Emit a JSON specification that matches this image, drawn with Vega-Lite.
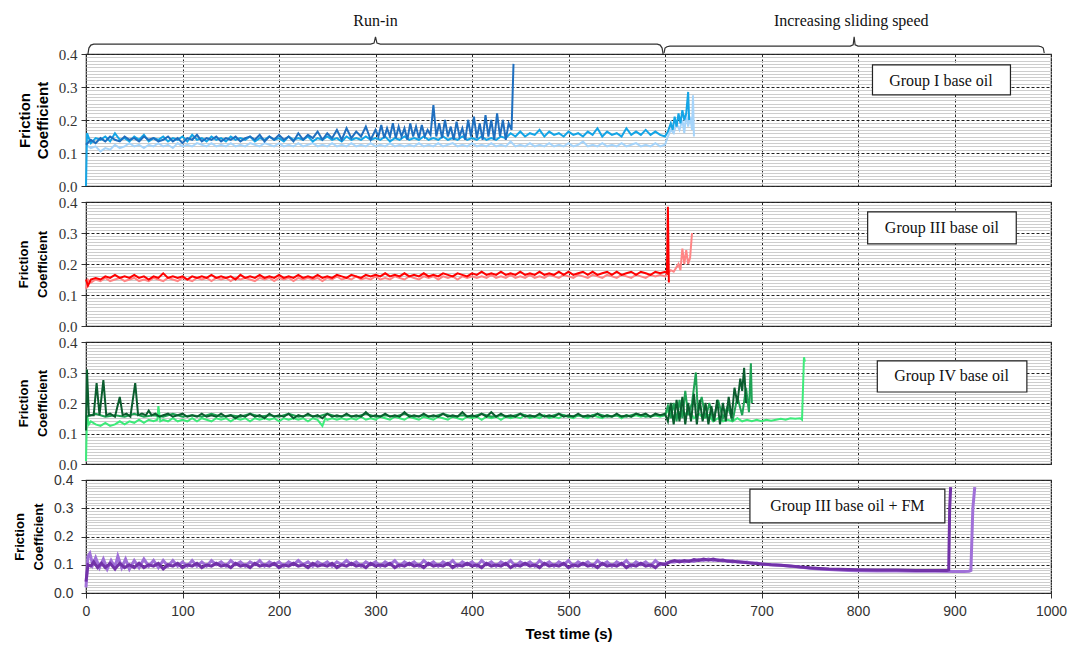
{
"$schema":"https://vega.github.io/schema/vega-lite/v6.json",
"background":"white",
"padding":{"left":12,"top":12,"right":5,"bottom":5},
"spacing":16,
"bounds":"flush",
"config":{"view":{"stroke":"#333","strokeWidth":1.2}},
"datasets":{
"Ia":[{"t":0,"v":0.125},{"t":5,"v":0.14},{"t":10,"v":0.13},{"t":15,"v":0.145},{"t":20,"v":0.135},{"t":25,"v":0.15},{"t":30,"v":0.14},{"t":35,"v":0.135},{"t":40,"v":0.15},{"t":45,"v":0.14},{"t":50,"v":0.145},{"t":55,"v":0.135},{"t":60,"v":0.15},{"t":65,"v":0.14},{"t":70,"v":0.145},{"t":75,"v":0.135},{"t":80,"v":0.14},{"t":85,"v":0.15},{"t":90,"v":0.135},{"t":95,"v":0.145},{"t":100,"v":0.13},{"t":105,"v":0.145},{"t":110,"v":0.14},{"t":115,"v":0.155},{"t":120,"v":0.135},{"t":125,"v":0.145},{"t":130,"v":0.14},{"t":135,"v":0.15},{"t":140,"v":0.135},{"t":145,"v":0.145},{"t":150,"v":0.14},{"t":155,"v":0.15},{"t":160,"v":0.135},{"t":165,"v":0.145},{"t":170,"v":0.15},{"t":175,"v":0.14},{"t":180,"v":0.155},{"t":185,"v":0.135},{"t":190,"v":0.15},{"t":195,"v":0.14},{"t":200,"v":0.155},{"t":205,"v":0.14},{"t":210,"v":0.15},{"t":215,"v":0.135},{"t":220,"v":0.16},{"t":225,"v":0.14},{"t":230,"v":0.155},{"t":235,"v":0.145},{"t":240,"v":0.165},{"t":245,"v":0.14},{"t":250,"v":0.16},{"t":255,"v":0.145},{"t":260,"v":0.17},{"t":265,"v":0.14},{"t":270,"v":0.175},{"t":275,"v":0.145},{"t":280,"v":0.165},{"t":285,"v":0.15},{"t":290,"v":0.18},{"t":295,"v":0.14},{"t":300,"v":0.17},{"t":303,"v":0.15},{"t":306,"v":0.185},{"t":309,"v":0.145},{"t":312,"v":0.175},{"t":315,"v":0.15},{"t":318,"v":0.19},{"t":321,"v":0.145},{"t":324,"v":0.18},{"t":327,"v":0.15},{"t":330,"v":0.175},{"t":333,"v":0.14},{"t":336,"v":0.19},{"t":339,"v":0.15},{"t":342,"v":0.18},{"t":345,"v":0.145},{"t":348,"v":0.185},{"t":351,"v":0.15},{"t":354,"v":0.17},{"t":357,"v":0.155},{"t":360,"v":0.245},{"t":363,"v":0.15},{"t":366,"v":0.19},{"t":369,"v":0.145},{"t":372,"v":0.2},{"t":375,"v":0.15},{"t":378,"v":0.18},{"t":381,"v":0.14},{"t":384,"v":0.195},{"t":387,"v":0.15},{"t":390,"v":0.175},{"t":393,"v":0.14},{"t":396,"v":0.2},{"t":399,"v":0.15},{"t":402,"v":0.21},{"t":405,"v":0.145},{"t":408,"v":0.19},{"t":411,"v":0.14},{"t":414,"v":0.215},{"t":417,"v":0.15},{"t":420,"v":0.2},{"t":423,"v":0.14},{"t":426,"v":0.22},{"t":429,"v":0.15},{"t":432,"v":0.2},{"t":435,"v":0.14},{"t":438,"v":0.19},{"t":441,"v":0.17},{"t":443,"v":0.37}],
"Ib":[{"t":0,"v":0.0},{"t":1,"v":0.16},{"t":5,"v":0.13},{"t":10,"v":0.145},{"t":15,"v":0.14},{"t":20,"v":0.15},{"t":25,"v":0.135},{"t":30,"v":0.16},{"t":35,"v":0.14},{"t":40,"v":0.145},{"t":45,"v":0.135},{"t":50,"v":0.15},{"t":55,"v":0.14},{"t":60,"v":0.155},{"t":65,"v":0.135},{"t":70,"v":0.145},{"t":75,"v":0.14},{"t":80,"v":0.15},{"t":85,"v":0.135},{"t":90,"v":0.145},{"t":95,"v":0.14},{"t":100,"v":0.15},{"t":105,"v":0.135},{"t":110,"v":0.155},{"t":115,"v":0.14},{"t":120,"v":0.145},{"t":125,"v":0.135},{"t":130,"v":0.15},{"t":135,"v":0.14},{"t":140,"v":0.145},{"t":145,"v":0.135},{"t":150,"v":0.15},{"t":155,"v":0.14},{"t":160,"v":0.145},{"t":165,"v":0.14},{"t":170,"v":0.15},{"t":175,"v":0.135},{"t":180,"v":0.145},{"t":185,"v":0.14},{"t":190,"v":0.15},{"t":195,"v":0.14},{"t":200,"v":0.145},{"t":205,"v":0.135},{"t":210,"v":0.15},{"t":215,"v":0.14},{"t":220,"v":0.145},{"t":225,"v":0.14},{"t":230,"v":0.15},{"t":235,"v":0.135},{"t":240,"v":0.145},{"t":245,"v":0.14},{"t":250,"v":0.15},{"t":255,"v":0.14},{"t":260,"v":0.145},{"t":265,"v":0.135},{"t":270,"v":0.15},{"t":275,"v":0.14},{"t":280,"v":0.145},{"t":285,"v":0.14},{"t":290,"v":0.15},{"t":295,"v":0.14},{"t":300,"v":0.145},{"t":305,"v":0.14},{"t":310,"v":0.15},{"t":315,"v":0.135},{"t":320,"v":0.145},{"t":325,"v":0.14},{"t":330,"v":0.15},{"t":335,"v":0.14},{"t":340,"v":0.145},{"t":345,"v":0.14},{"t":350,"v":0.15},{"t":355,"v":0.14},{"t":360,"v":0.145},{"t":365,"v":0.14},{"t":370,"v":0.15},{"t":375,"v":0.14},{"t":380,"v":0.145},{"t":385,"v":0.14},{"t":390,"v":0.15},{"t":395,"v":0.14},{"t":400,"v":0.145},{"t":405,"v":0.14},{"t":410,"v":0.15},{"t":415,"v":0.14},{"t":420,"v":0.145},{"t":425,"v":0.14},{"t":430,"v":0.15},{"t":435,"v":0.145},{"t":440,"v":0.16},{"t":445,"v":0.15},{"t":450,"v":0.165},{"t":455,"v":0.15},{"t":460,"v":0.16},{"t":465,"v":0.155},{"t":470,"v":0.17},{"t":475,"v":0.15},{"t":480,"v":0.165},{"t":485,"v":0.155},{"t":490,"v":0.16},{"t":495,"v":0.15},{"t":500,"v":0.165},{"t":505,"v":0.155},{"t":510,"v":0.16},{"t":515,"v":0.15},{"t":520,"v":0.165},{"t":525,"v":0.155},{"t":530,"v":0.175},{"t":535,"v":0.15},{"t":540,"v":0.165},{"t":545,"v":0.155},{"t":550,"v":0.16},{"t":555,"v":0.15},{"t":560,"v":0.175},{"t":565,"v":0.155},{"t":570,"v":0.165},{"t":575,"v":0.155},{"t":580,"v":0.17},{"t":585,"v":0.155},{"t":590,"v":0.165},{"t":595,"v":0.155},{"t":600,"v":0.15},{"t":603,"v":0.165},{"t":606,"v":0.19},{"t":608,"v":0.17},{"t":610,"v":0.21},{"t":612,"v":0.18},{"t":614,"v":0.22},{"t":616,"v":0.19},{"t":618,"v":0.23},{"t":620,"v":0.2},{"t":622,"v":0.22},{"t":624,"v":0.285},{"t":625,"v":0.2}],
"Ic":[{"t":0,"v":0.125},{"t":5,"v":0.115},{"t":10,"v":0.12},{"t":15,"v":0.105},{"t":20,"v":0.115},{"t":25,"v":0.11},{"t":30,"v":0.125},{"t":35,"v":0.115},{"t":40,"v":0.12},{"t":45,"v":0.13},{"t":50,"v":0.12},{"t":55,"v":0.125},{"t":60,"v":0.115},{"t":65,"v":0.125},{"t":70,"v":0.12},{"t":75,"v":0.13},{"t":80,"v":0.12},{"t":85,"v":0.125},{"t":90,"v":0.115},{"t":95,"v":0.13},{"t":100,"v":0.12},{"t":105,"v":0.125},{"t":110,"v":0.12},{"t":115,"v":0.13},{"t":120,"v":0.125},{"t":125,"v":0.12},{"t":130,"v":0.13},{"t":135,"v":0.12},{"t":140,"v":0.125},{"t":145,"v":0.12},{"t":150,"v":0.13},{"t":155,"v":0.12},{"t":160,"v":0.125},{"t":165,"v":0.12},{"t":170,"v":0.13},{"t":175,"v":0.125},{"t":180,"v":0.12},{"t":185,"v":0.13},{"t":190,"v":0.125},{"t":195,"v":0.12},{"t":200,"v":0.13},{"t":205,"v":0.12},{"t":210,"v":0.125},{"t":215,"v":0.12},{"t":220,"v":0.13},{"t":225,"v":0.12},{"t":230,"v":0.125},{"t":235,"v":0.13},{"t":240,"v":0.12},{"t":245,"v":0.125},{"t":250,"v":0.12},{"t":255,"v":0.13},{"t":260,"v":0.12},{"t":265,"v":0.125},{"t":270,"v":0.12},{"t":275,"v":0.13},{"t":280,"v":0.12},{"t":285,"v":0.125},{"t":290,"v":0.12},{"t":295,"v":0.13},{"t":300,"v":0.12},{"t":305,"v":0.125},{"t":310,"v":0.12},{"t":315,"v":0.13},{"t":320,"v":0.12},{"t":325,"v":0.125},{"t":330,"v":0.12},{"t":335,"v":0.125},{"t":340,"v":0.12},{"t":345,"v":0.13},{"t":350,"v":0.12},{"t":355,"v":0.125},{"t":360,"v":0.12},{"t":365,"v":0.13},{"t":370,"v":0.12},{"t":375,"v":0.125},{"t":380,"v":0.13},{"t":385,"v":0.12},{"t":390,"v":0.125},{"t":395,"v":0.12},{"t":400,"v":0.13},{"t":405,"v":0.12},{"t":410,"v":0.125},{"t":415,"v":0.12},{"t":420,"v":0.13},{"t":425,"v":0.12},{"t":430,"v":0.125},{"t":435,"v":0.12},{"t":440,"v":0.135},{"t":445,"v":0.12},{"t":450,"v":0.125},{"t":455,"v":0.12},{"t":460,"v":0.13},{"t":465,"v":0.12},{"t":470,"v":0.125},{"t":475,"v":0.12},{"t":480,"v":0.13},{"t":485,"v":0.12},{"t":490,"v":0.125},{"t":495,"v":0.12},{"t":500,"v":0.13},{"t":505,"v":0.12},{"t":510,"v":0.125},{"t":515,"v":0.135},{"t":520,"v":0.12},{"t":525,"v":0.125},{"t":530,"v":0.12},{"t":535,"v":0.13},{"t":540,"v":0.12},{"t":545,"v":0.125},{"t":550,"v":0.12},{"t":555,"v":0.13},{"t":560,"v":0.12},{"t":565,"v":0.125},{"t":570,"v":0.13},{"t":575,"v":0.12},{"t":580,"v":0.125},{"t":585,"v":0.12},{"t":590,"v":0.13},{"t":595,"v":0.12},{"t":600,"v":0.125},{"t":603,"v":0.15},{"t":606,"v":0.17},{"t":609,"v":0.16},{"t":612,"v":0.19},{"t":615,"v":0.17},{"t":618,"v":0.2},{"t":620,"v":0.16},{"t":622,"v":0.22},{"t":624,"v":0.18},{"t":626,"v":0.21},{"t":628,"v":0.17},{"t":629,"v":0.275},{"t":630,"v":0.15}],
"IIIa":[{"t":0,"v":0.15},{"t":2,"v":0.13},{"t":5,"v":0.15},{"t":10,"v":0.155},{"t":15,"v":0.15},{"t":20,"v":0.16},{"t":25,"v":0.155},{"t":30,"v":0.165},{"t":35,"v":0.155},{"t":40,"v":0.16},{"t":45,"v":0.155},{"t":50,"v":0.165},{"t":55,"v":0.155},{"t":60,"v":0.16},{"t":65,"v":0.15},{"t":70,"v":0.16},{"t":75,"v":0.155},{"t":80,"v":0.17},{"t":85,"v":0.155},{"t":90,"v":0.16},{"t":95,"v":0.155},{"t":100,"v":0.16},{"t":105,"v":0.15},{"t":110,"v":0.16},{"t":115,"v":0.155},{"t":120,"v":0.16},{"t":125,"v":0.155},{"t":130,"v":0.165},{"t":135,"v":0.155},{"t":140,"v":0.16},{"t":145,"v":0.155},{"t":150,"v":0.16},{"t":155,"v":0.15},{"t":160,"v":0.165},{"t":165,"v":0.155},{"t":170,"v":0.16},{"t":175,"v":0.155},{"t":180,"v":0.165},{"t":185,"v":0.155},{"t":190,"v":0.16},{"t":195,"v":0.155},{"t":200,"v":0.165},{"t":205,"v":0.155},{"t":210,"v":0.16},{"t":215,"v":0.155},{"t":220,"v":0.165},{"t":225,"v":0.155},{"t":230,"v":0.16},{"t":235,"v":0.155},{"t":240,"v":0.165},{"t":245,"v":0.155},{"t":250,"v":0.16},{"t":255,"v":0.155},{"t":260,"v":0.165},{"t":265,"v":0.16},{"t":270,"v":0.155},{"t":275,"v":0.165},{"t":280,"v":0.16},{"t":285,"v":0.155},{"t":290,"v":0.165},{"t":295,"v":0.16},{"t":300,"v":0.165},{"t":305,"v":0.16},{"t":310,"v":0.17},{"t":315,"v":0.16},{"t":320,"v":0.165},{"t":325,"v":0.16},{"t":330,"v":0.17},{"t":335,"v":0.16},{"t":340,"v":0.165},{"t":345,"v":0.16},{"t":350,"v":0.17},{"t":355,"v":0.16},{"t":360,"v":0.165},{"t":365,"v":0.16},{"t":370,"v":0.17},{"t":375,"v":0.165},{"t":380,"v":0.16},{"t":385,"v":0.17},{"t":390,"v":0.165},{"t":395,"v":0.16},{"t":400,"v":0.17},{"t":405,"v":0.165},{"t":410,"v":0.175},{"t":415,"v":0.165},{"t":420,"v":0.17},{"t":425,"v":0.165},{"t":430,"v":0.175},{"t":435,"v":0.165},{"t":440,"v":0.17},{"t":445,"v":0.165},{"t":450,"v":0.175},{"t":455,"v":0.165},{"t":460,"v":0.17},{"t":465,"v":0.165},{"t":470,"v":0.175},{"t":475,"v":0.165},{"t":480,"v":0.17},{"t":485,"v":0.165},{"t":490,"v":0.175},{"t":495,"v":0.165},{"t":500,"v":0.175},{"t":505,"v":0.165},{"t":510,"v":0.17},{"t":515,"v":0.175},{"t":520,"v":0.165},{"t":525,"v":0.175},{"t":530,"v":0.165},{"t":535,"v":0.17},{"t":540,"v":0.175},{"t":545,"v":0.165},{"t":550,"v":0.175},{"t":555,"v":0.165},{"t":560,"v":0.17},{"t":565,"v":0.175},{"t":570,"v":0.165},{"t":575,"v":0.175},{"t":580,"v":0.17},{"t":585,"v":0.165},{"t":590,"v":0.175},{"t":595,"v":0.17},{"t":600,"v":0.175},{"t":602,"v":0.17},{"t":603,"v":0.385},{"t":604,"v":0.14}],
"IIIb":[{"t":0,"v":0.12},{"t":2,"v":0.15},{"t":5,"v":0.14},{"t":10,"v":0.15},{"t":15,"v":0.145},{"t":20,"v":0.155},{"t":25,"v":0.145},{"t":30,"v":0.15},{"t":35,"v":0.155},{"t":40,"v":0.145},{"t":45,"v":0.15},{"t":50,"v":0.155},{"t":55,"v":0.145},{"t":60,"v":0.15},{"t":65,"v":0.145},{"t":70,"v":0.155},{"t":75,"v":0.15},{"t":80,"v":0.145},{"t":85,"v":0.155},{"t":90,"v":0.15},{"t":95,"v":0.145},{"t":100,"v":0.155},{"t":105,"v":0.15},{"t":110,"v":0.145},{"t":115,"v":0.155},{"t":120,"v":0.15},{"t":125,"v":0.155},{"t":130,"v":0.145},{"t":135,"v":0.155},{"t":140,"v":0.15},{"t":145,"v":0.155},{"t":150,"v":0.145},{"t":155,"v":0.155},{"t":160,"v":0.15},{"t":165,"v":0.155},{"t":170,"v":0.15},{"t":175,"v":0.145},{"t":180,"v":0.155},{"t":185,"v":0.15},{"t":190,"v":0.155},{"t":195,"v":0.145},{"t":200,"v":0.155},{"t":205,"v":0.15},{"t":210,"v":0.155},{"t":215,"v":0.145},{"t":220,"v":0.155},{"t":225,"v":0.15},{"t":230,"v":0.155},{"t":235,"v":0.15},{"t":240,"v":0.155},{"t":245,"v":0.145},{"t":250,"v":0.155},{"t":255,"v":0.15},{"t":260,"v":0.16},{"t":265,"v":0.15},{"t":270,"v":0.155},{"t":275,"v":0.15},{"t":280,"v":0.16},{"t":285,"v":0.15},{"t":290,"v":0.155},{"t":295,"v":0.15},{"t":300,"v":0.16},{"t":305,"v":0.15},{"t":310,"v":0.155},{"t":315,"v":0.15},{"t":320,"v":0.16},{"t":325,"v":0.155},{"t":330,"v":0.15},{"t":335,"v":0.16},{"t":340,"v":0.155},{"t":345,"v":0.15},{"t":350,"v":0.16},{"t":355,"v":0.155},{"t":360,"v":0.16},{"t":365,"v":0.15},{"t":370,"v":0.16},{"t":375,"v":0.155},{"t":380,"v":0.16},{"t":385,"v":0.15},{"t":390,"v":0.16},{"t":395,"v":0.155},{"t":400,"v":0.16},{"t":405,"v":0.155},{"t":410,"v":0.16},{"t":415,"v":0.155},{"t":420,"v":0.165},{"t":425,"v":0.155},{"t":430,"v":0.16},{"t":435,"v":0.155},{"t":440,"v":0.165},{"t":445,"v":0.155},{"t":450,"v":0.16},{"t":455,"v":0.155},{"t":460,"v":0.165},{"t":465,"v":0.155},{"t":470,"v":0.16},{"t":475,"v":0.155},{"t":480,"v":0.165},{"t":485,"v":0.16},{"t":490,"v":0.155},{"t":495,"v":0.165},{"t":500,"v":0.16},{"t":505,"v":0.155},{"t":510,"v":0.165},{"t":515,"v":0.16},{"t":520,"v":0.155},{"t":525,"v":0.165},{"t":530,"v":0.16},{"t":535,"v":0.155},{"t":540,"v":0.165},{"t":545,"v":0.16},{"t":550,"v":0.155},{"t":555,"v":0.165},{"t":560,"v":0.16},{"t":565,"v":0.155},{"t":570,"v":0.165},{"t":575,"v":0.16},{"t":580,"v":0.155},{"t":585,"v":0.165},{"t":590,"v":0.16},{"t":595,"v":0.165},{"t":600,"v":0.16},{"t":603,"v":0.17},{"t":606,"v":0.18},{"t":609,"v":0.175},{"t":612,"v":0.19},{"t":614,"v":0.2},{"t":616,"v":0.18},{"t":618,"v":0.25},{"t":620,"v":0.2},{"t":622,"v":0.245},{"t":624,"v":0.2},{"t":626,"v":0.22},{"t":628,"v":0.3}],
"IVa":[{"t":0,"v":0.11},{"t":1,"v":0.31},{"t":3,"v":0.16},{"t":8,"v":0.16},{"t":11,"v":0.265},{"t":14,"v":0.16},{"t":18,"v":0.275},{"t":21,"v":0.16},{"t":25,"v":0.165},{"t":30,"v":0.155},{"t":35,"v":0.22},{"t":38,"v":0.16},{"t":42,"v":0.165},{"t":46,"v":0.155},{"t":51,"v":0.265},{"t":54,"v":0.16},{"t":58,"v":0.165},{"t":62,"v":0.16},{"t":65,"v":0.175},{"t":68,"v":0.16},{"t":72,"v":0.165},{"t":76,"v":0.155},{"t":80,"v":0.16},{"t":85,"v":0.165},{"t":90,"v":0.155},{"t":95,"v":0.16},{"t":100,"v":0.165},{"t":105,"v":0.155},{"t":110,"v":0.16},{"t":115,"v":0.155},{"t":120,"v":0.165},{"t":125,"v":0.155},{"t":130,"v":0.16},{"t":135,"v":0.155},{"t":140,"v":0.165},{"t":145,"v":0.155},{"t":150,"v":0.16},{"t":155,"v":0.15},{"t":160,"v":0.16},{"t":165,"v":0.155},{"t":170,"v":0.165},{"t":175,"v":0.155},{"t":180,"v":0.16},{"t":185,"v":0.15},{"t":190,"v":0.165},{"t":195,"v":0.155},{"t":200,"v":0.16},{"t":205,"v":0.155},{"t":210,"v":0.165},{"t":215,"v":0.15},{"t":220,"v":0.16},{"t":225,"v":0.155},{"t":230,"v":0.165},{"t":235,"v":0.155},{"t":240,"v":0.16},{"t":245,"v":0.15},{"t":250,"v":0.165},{"t":255,"v":0.155},{"t":260,"v":0.16},{"t":265,"v":0.155},{"t":270,"v":0.165},{"t":275,"v":0.155},{"t":280,"v":0.16},{"t":285,"v":0.155},{"t":290,"v":0.17},{"t":295,"v":0.155},{"t":300,"v":0.16},{"t":305,"v":0.155},{"t":310,"v":0.165},{"t":315,"v":0.155},{"t":320,"v":0.16},{"t":325,"v":0.155},{"t":330,"v":0.17},{"t":335,"v":0.155},{"t":340,"v":0.16},{"t":345,"v":0.155},{"t":350,"v":0.165},{"t":355,"v":0.155},{"t":360,"v":0.16},{"t":365,"v":0.155},{"t":370,"v":0.165},{"t":375,"v":0.155},{"t":380,"v":0.16},{"t":385,"v":0.155},{"t":390,"v":0.17},{"t":395,"v":0.155},{"t":400,"v":0.16},{"t":405,"v":0.155},{"t":410,"v":0.165},{"t":415,"v":0.155},{"t":420,"v":0.17},{"t":425,"v":0.155},{"t":430,"v":0.165},{"t":435,"v":0.155},{"t":440,"v":0.16},{"t":445,"v":0.155},{"t":450,"v":0.165},{"t":455,"v":0.155},{"t":460,"v":0.16},{"t":465,"v":0.155},{"t":470,"v":0.165},{"t":475,"v":0.155},{"t":480,"v":0.16},{"t":485,"v":0.155},{"t":490,"v":0.165},{"t":495,"v":0.155},{"t":500,"v":0.16},{"t":505,"v":0.155},{"t":510,"v":0.165},{"t":515,"v":0.155},{"t":520,"v":0.16},{"t":525,"v":0.155},{"t":530,"v":0.165},{"t":535,"v":0.155},{"t":540,"v":0.16},{"t":545,"v":0.155},{"t":550,"v":0.165},{"t":555,"v":0.155},{"t":560,"v":0.16},{"t":565,"v":0.155},{"t":570,"v":0.165},{"t":575,"v":0.16},{"t":580,"v":0.165},{"t":585,"v":0.155},{"t":590,"v":0.165},{"t":595,"v":0.16},{"t":600,"v":0.165},{"t":603,"v":0.14},{"t":606,"v":0.2},{"t":609,"v":0.13},{"t":612,"v":0.21},{"t":615,"v":0.14},{"t":618,"v":0.22},{"t":621,"v":0.13},{"t":624,"v":0.2},{"t":627,"v":0.14},{"t":630,"v":0.23},{"t":633,"v":0.13},{"t":636,"v":0.21},{"t":639,"v":0.14},{"t":642,"v":0.2},{"t":645,"v":0.13},{"t":648,"v":0.19},{"t":651,"v":0.14},{"t":654,"v":0.21},{"t":657,"v":0.13},{"t":660,"v":0.2},{"t":663,"v":0.14},{"t":666,"v":0.22},{"t":669,"v":0.15},{"t":672,"v":0.25},{"t":675,"v":0.2},{"t":678,"v":0.28},{"t":680,"v":0.24},{"t":682,"v":0.315},{"t":684,"v":0.2}],
"IVb":[{"t":0,"v":0.155},{"t":10,"v":0.165},{"t":20,"v":0.155},{"t":30,"v":0.16},{"t":40,"v":0.155},{"t":50,"v":0.165},{"t":60,"v":0.155},{"t":70,"v":0.16},{"t":80,"v":0.155},{"t":90,"v":0.165},{"t":100,"v":0.155},{"t":110,"v":0.16},{"t":120,"v":0.155},{"t":130,"v":0.165},{"t":140,"v":0.155},{"t":150,"v":0.16},{"t":160,"v":0.155},{"t":170,"v":0.165},{"t":180,"v":0.155},{"t":190,"v":0.16},{"t":200,"v":0.155},{"t":210,"v":0.165},{"t":220,"v":0.155},{"t":230,"v":0.16},{"t":240,"v":0.155},{"t":250,"v":0.165},{"t":260,"v":0.155},{"t":270,"v":0.16},{"t":280,"v":0.155},{"t":290,"v":0.165},{"t":300,"v":0.155},{"t":310,"v":0.16},{"t":320,"v":0.155},{"t":330,"v":0.165},{"t":340,"v":0.155},{"t":350,"v":0.16},{"t":360,"v":0.155},{"t":370,"v":0.165},{"t":380,"v":0.155},{"t":390,"v":0.16},{"t":400,"v":0.155},{"t":410,"v":0.165},{"t":420,"v":0.155},{"t":430,"v":0.16},{"t":440,"v":0.155},{"t":450,"v":0.165},{"t":460,"v":0.155},{"t":470,"v":0.16},{"t":480,"v":0.155},{"t":490,"v":0.165},{"t":500,"v":0.155},{"t":510,"v":0.16},{"t":520,"v":0.155},{"t":530,"v":0.165},{"t":540,"v":0.155},{"t":550,"v":0.16},{"t":560,"v":0.155},{"t":570,"v":0.165},{"t":580,"v":0.155},{"t":590,"v":0.16},{"t":600,"v":0.16},{"t":603,"v":0.19},{"t":606,"v":0.15},{"t":609,"v":0.2},{"t":612,"v":0.14},{"t":615,"v":0.21},{"t":618,"v":0.15},{"t":621,"v":0.24},{"t":624,"v":0.16},{"t":628,"v":0.2},{"t":632,"v":0.3},{"t":634,"v":0.17},{"t":638,"v":0.22},{"t":642,"v":0.15},{"t":646,"v":0.2},{"t":650,"v":0.14},{"t":655,"v":0.21},{"t":660,"v":0.15},{"t":665,"v":0.19},{"t":670,"v":0.14},{"t":675,"v":0.22},{"t":680,"v":0.16},{"t":684,"v":0.25},{"t":687,"v":0.17},{"t":689,"v":0.33},{"t":690,"v":0.2}],
"IVc":[{"t":0,"v":0.01},{"t":1,"v":0.16},{"t":3,"v":0.13},{"t":5,"v":0.14},{"t":10,"v":0.13},{"t":15,"v":0.125},{"t":20,"v":0.135},{"t":25,"v":0.125},{"t":30,"v":0.13},{"t":35,"v":0.14},{"t":40,"v":0.13},{"t":45,"v":0.14},{"t":50,"v":0.135},{"t":55,"v":0.145},{"t":60,"v":0.135},{"t":65,"v":0.145},{"t":70,"v":0.14},{"t":74,"v":0.145},{"t":75,"v":0.19},{"t":77,"v":0.14},{"t":80,"v":0.145},{"t":85,"v":0.14},{"t":90,"v":0.15},{"t":95,"v":0.14},{"t":100,"v":0.145},{"t":105,"v":0.14},{"t":110,"v":0.15},{"t":115,"v":0.14},{"t":120,"v":0.15},{"t":125,"v":0.145},{"t":130,"v":0.14},{"t":135,"v":0.15},{"t":140,"v":0.145},{"t":145,"v":0.15},{"t":150,"v":0.14},{"t":155,"v":0.15},{"t":160,"v":0.145},{"t":165,"v":0.15},{"t":170,"v":0.14},{"t":175,"v":0.15},{"t":180,"v":0.145},{"t":185,"v":0.15},{"t":190,"v":0.145},{"t":195,"v":0.15},{"t":200,"v":0.14},{"t":205,"v":0.15},{"t":210,"v":0.145},{"t":215,"v":0.15},{"t":220,"v":0.145},{"t":225,"v":0.15},{"t":230,"v":0.14},{"t":235,"v":0.15},{"t":240,"v":0.145},{"t":245,"v":0.125},{"t":248,"v":0.15},{"t":250,"v":0.145},{"t":255,"v":0.15},{"t":260,"v":0.145},{"t":265,"v":0.15},{"t":270,"v":0.145},{"t":275,"v":0.15},{"t":280,"v":0.145},{"t":285,"v":0.155},{"t":290,"v":0.145},{"t":295,"v":0.15},{"t":300,"v":0.145},{"t":305,"v":0.155},{"t":310,"v":0.15},{"t":315,"v":0.145},{"t":320,"v":0.155},{"t":325,"v":0.15},{"t":330,"v":0.145},{"t":335,"v":0.155},{"t":340,"v":0.15},{"t":345,"v":0.145},{"t":350,"v":0.155},{"t":355,"v":0.15},{"t":360,"v":0.145},{"t":365,"v":0.155},{"t":370,"v":0.15},{"t":375,"v":0.145},{"t":380,"v":0.155},{"t":385,"v":0.15},{"t":390,"v":0.145},{"t":395,"v":0.155},{"t":400,"v":0.15},{"t":405,"v":0.155},{"t":410,"v":0.145},{"t":415,"v":0.155},{"t":420,"v":0.15},{"t":425,"v":0.155},{"t":430,"v":0.145},{"t":435,"v":0.155},{"t":440,"v":0.15},{"t":445,"v":0.155},{"t":450,"v":0.15},{"t":455,"v":0.16},{"t":460,"v":0.15},{"t":465,"v":0.155},{"t":470,"v":0.15},{"t":475,"v":0.16},{"t":480,"v":0.15},{"t":485,"v":0.155},{"t":490,"v":0.15},{"t":495,"v":0.16},{"t":500,"v":0.155},{"t":505,"v":0.15},{"t":510,"v":0.16},{"t":515,"v":0.155},{"t":520,"v":0.15},{"t":525,"v":0.16},{"t":530,"v":0.155},{"t":535,"v":0.15},{"t":540,"v":0.16},{"t":545,"v":0.155},{"t":550,"v":0.16},{"t":555,"v":0.15},{"t":560,"v":0.16},{"t":565,"v":0.155},{"t":570,"v":0.16},{"t":575,"v":0.155},{"t":580,"v":0.16},{"t":585,"v":0.155},{"t":590,"v":0.16},{"t":595,"v":0.155},{"t":600,"v":0.16},{"t":602,"v":0.17},{"t":604,"v":0.185},{"t":606,"v":0.165},{"t":610,"v":0.155},{"t":615,"v":0.17},{"t":620,"v":0.16},{"t":625,"v":0.175},{"t":630,"v":0.15},{"t":635,"v":0.165},{"t":640,"v":0.15},{"t":645,"v":0.16},{"t":650,"v":0.14},{"t":655,"v":0.15},{"t":660,"v":0.14},{"t":665,"v":0.145},{"t":670,"v":0.14},{"t":675,"v":0.15},{"t":680,"v":0.14},{"t":685,"v":0.145},{"t":690,"v":0.14},{"t":695,"v":0.145},{"t":700,"v":0.14},{"t":705,"v":0.145},{"t":710,"v":0.142},{"t":715,"v":0.145},{"t":720,"v":0.148},{"t":725,"v":0.145},{"t":730,"v":0.15},{"t":735,"v":0.148},{"t":740,"v":0.15},{"t":742,"v":0.145},{"t":744,"v":0.35},{"t":745,"v":0.335}],
"FMa":[{"t":0,"v":0.04},{"t":2,"v":0.1},{"t":5,"v":0.095},{"t":8,"v":0.11},{"t":12,"v":0.09},{"t":16,"v":0.105},{"t":20,"v":0.09},{"t":25,"v":0.105},{"t":30,"v":0.085},{"t":35,"v":0.105},{"t":40,"v":0.09},{"t":45,"v":0.1},{"t":50,"v":0.09},{"t":55,"v":0.105},{"t":60,"v":0.09},{"t":65,"v":0.1},{"t":70,"v":0.095},{"t":75,"v":0.105},{"t":80,"v":0.085},{"t":85,"v":0.1},{"t":90,"v":0.095},{"t":95,"v":0.105},{"t":100,"v":0.09},{"t":105,"v":0.1},{"t":110,"v":0.095},{"t":115,"v":0.105},{"t":120,"v":0.09},{"t":125,"v":0.1},{"t":130,"v":0.095},{"t":135,"v":0.105},{"t":140,"v":0.095},{"t":145,"v":0.1},{"t":150,"v":0.09},{"t":155,"v":0.105},{"t":160,"v":0.095},{"t":165,"v":0.1},{"t":170,"v":0.09},{"t":175,"v":0.105},{"t":180,"v":0.095},{"t":185,"v":0.1},{"t":190,"v":0.095},{"t":195,"v":0.105},{"t":200,"v":0.09},{"t":205,"v":0.1},{"t":210,"v":0.095},{"t":215,"v":0.105},{"t":220,"v":0.095},{"t":225,"v":0.1},{"t":230,"v":0.09},{"t":235,"v":0.105},{"t":240,"v":0.095},{"t":245,"v":0.1},{"t":250,"v":0.095},{"t":255,"v":0.105},{"t":260,"v":0.09},{"t":265,"v":0.1},{"t":270,"v":0.095},{"t":275,"v":0.105},{"t":280,"v":0.095},{"t":285,"v":0.1},{"t":290,"v":0.09},{"t":295,"v":0.105},{"t":300,"v":0.095},{"t":305,"v":0.1},{"t":310,"v":0.095},{"t":315,"v":0.105},{"t":320,"v":0.09},{"t":325,"v":0.1},{"t":330,"v":0.095},{"t":335,"v":0.105},{"t":340,"v":0.095},{"t":345,"v":0.1},{"t":350,"v":0.09},{"t":355,"v":0.105},{"t":360,"v":0.095},{"t":365,"v":0.1},{"t":370,"v":0.095},{"t":375,"v":0.105},{"t":380,"v":0.09},{"t":385,"v":0.1},{"t":390,"v":0.095},{"t":395,"v":0.105},{"t":400,"v":0.095},{"t":405,"v":0.1},{"t":410,"v":0.09},{"t":415,"v":0.105},{"t":420,"v":0.095},{"t":425,"v":0.1},{"t":430,"v":0.095},{"t":435,"v":0.105},{"t":440,"v":0.09},{"t":445,"v":0.1},{"t":450,"v":0.095},{"t":455,"v":0.105},{"t":460,"v":0.095},{"t":465,"v":0.1},{"t":470,"v":0.09},{"t":475,"v":0.105},{"t":480,"v":0.095},{"t":485,"v":0.1},{"t":490,"v":0.095},{"t":495,"v":0.105},{"t":500,"v":0.09},{"t":505,"v":0.1},{"t":510,"v":0.095},{"t":515,"v":0.105},{"t":520,"v":0.095},{"t":525,"v":0.1},{"t":530,"v":0.09},{"t":535,"v":0.105},{"t":540,"v":0.095},{"t":545,"v":0.1},{"t":550,"v":0.095},{"t":555,"v":0.105},{"t":560,"v":0.09},{"t":565,"v":0.1},{"t":570,"v":0.095},{"t":575,"v":0.105},{"t":580,"v":0.095},{"t":585,"v":0.1},{"t":590,"v":0.09},{"t":595,"v":0.105},{"t":600,"v":0.1},{"t":605,"v":0.11},{"t":610,"v":0.115},{"t":615,"v":0.11},{"t":620,"v":0.115},{"t":625,"v":0.112},{"t":630,"v":0.118},{"t":635,"v":0.115},{"t":640,"v":0.12},{"t":645,"v":0.116},{"t":650,"v":0.12},{"t":655,"v":0.115},{"t":660,"v":0.117},{"t":665,"v":0.112},{"t":670,"v":0.113},{"t":675,"v":0.11},{"t":680,"v":0.11},{"t":685,"v":0.107},{"t":690,"v":0.106},{"t":695,"v":0.104},{"t":700,"v":0.103},{"t":710,"v":0.1},{"t":720,"v":0.098},{"t":730,"v":0.096},{"t":740,"v":0.092},{"t":750,"v":0.089},{"t":760,"v":0.087},{"t":770,"v":0.085},{"t":780,"v":0.084},{"t":790,"v":0.083},{"t":800,"v":0.082},{"t":820,"v":0.081},{"t":840,"v":0.081},{"t":860,"v":0.08},{"t":880,"v":0.08},{"t":892,"v":0.08},{"t":894,"v":0.082},{"t":895,"v":0.3},{"t":896,"v":0.375}],
"FMb":[{"t":0,"v":0.02},{"t":2,"v":0.13},{"t":4,"v":0.14},{"t":7,"v":0.1},{"t":10,"v":0.125},{"t":14,"v":0.09},{"t":18,"v":0.12},{"t":22,"v":0.085},{"t":26,"v":0.115},{"t":30,"v":0.09},{"t":33,"v":0.13},{"t":37,"v":0.09},{"t":41,"v":0.12},{"t":45,"v":0.085},{"t":50,"v":0.115},{"t":55,"v":0.09},{"t":60,"v":0.12},{"t":65,"v":0.095},{"t":70,"v":0.115},{"t":75,"v":0.09},{"t":80,"v":0.115},{"t":85,"v":0.095},{"t":90,"v":0.115},{"t":95,"v":0.095},{"t":100,"v":0.11},{"t":105,"v":0.095},{"t":110,"v":0.115},{"t":115,"v":0.095},{"t":120,"v":0.11},{"t":125,"v":0.095},{"t":130,"v":0.115},{"t":135,"v":0.1},{"t":140,"v":0.11},{"t":145,"v":0.095},{"t":150,"v":0.115},{"t":155,"v":0.1},{"t":160,"v":0.11},{"t":165,"v":0.095},{"t":170,"v":0.11},{"t":175,"v":0.1},{"t":180,"v":0.115},{"t":185,"v":0.095},{"t":190,"v":0.11},{"t":195,"v":0.1},{"t":200,"v":0.11},{"t":205,"v":0.095},{"t":210,"v":0.11},{"t":215,"v":0.1},{"t":220,"v":0.115},{"t":225,"v":0.1},{"t":230,"v":0.11},{"t":235,"v":0.095},{"t":240,"v":0.11},{"t":245,"v":0.1},{"t":250,"v":0.11},{"t":255,"v":0.095},{"t":260,"v":0.11},{"t":265,"v":0.1},{"t":270,"v":0.115},{"t":275,"v":0.1},{"t":280,"v":0.11},{"t":285,"v":0.095},{"t":290,"v":0.11},{"t":295,"v":0.1},{"t":300,"v":0.11},{"t":305,"v":0.095},{"t":310,"v":0.11},{"t":315,"v":0.1},{"t":320,"v":0.115},{"t":325,"v":0.095},{"t":330,"v":0.11},{"t":335,"v":0.1},{"t":340,"v":0.11},{"t":345,"v":0.095},{"t":350,"v":0.115},{"t":355,"v":0.1},{"t":360,"v":0.11},{"t":365,"v":0.095},{"t":370,"v":0.11},{"t":375,"v":0.1},{"t":380,"v":0.115},{"t":385,"v":0.095},{"t":390,"v":0.11},{"t":395,"v":0.1},{"t":400,"v":0.11},{"t":405,"v":0.095},{"t":410,"v":0.115},{"t":415,"v":0.1},{"t":420,"v":0.11},{"t":425,"v":0.095},{"t":430,"v":0.11},{"t":435,"v":0.1},{"t":440,"v":0.115},{"t":445,"v":0.095},{"t":450,"v":0.11},{"t":455,"v":0.1},{"t":460,"v":0.11},{"t":465,"v":0.095},{"t":470,"v":0.115},{"t":475,"v":0.1},{"t":480,"v":0.11},{"t":485,"v":0.095},{"t":490,"v":0.11},{"t":495,"v":0.1},{"t":500,"v":0.115},{"t":505,"v":0.095},{"t":510,"v":0.11},{"t":515,"v":0.1},{"t":520,"v":0.11},{"t":525,"v":0.095},{"t":530,"v":0.115},{"t":535,"v":0.1},{"t":540,"v":0.11},{"t":545,"v":0.095},{"t":550,"v":0.11},{"t":555,"v":0.1},{"t":560,"v":0.115},{"t":565,"v":0.095},{"t":570,"v":0.11},{"t":575,"v":0.1},{"t":580,"v":0.11},{"t":585,"v":0.095},{"t":590,"v":0.115},{"t":595,"v":0.1},{"t":600,"v":0.105},{"t":605,"v":0.11},{"t":610,"v":0.11},{"t":615,"v":0.115},{"t":620,"v":0.11},{"t":625,"v":0.115},{"t":630,"v":0.112},{"t":635,"v":0.118},{"t":640,"v":0.115},{"t":645,"v":0.12},{"t":650,"v":0.115},{"t":655,"v":0.118},{"t":660,"v":0.113},{"t":665,"v":0.115},{"t":670,"v":0.11},{"t":675,"v":0.112},{"t":680,"v":0.108},{"t":685,"v":0.11},{"t":690,"v":0.105},{"t":695,"v":0.106},{"t":700,"v":0.102},{"t":710,"v":0.1},{"t":720,"v":0.098},{"t":730,"v":0.095},{"t":740,"v":0.092},{"t":750,"v":0.088},{"t":760,"v":0.085},{"t":770,"v":0.083},{"t":780,"v":0.081},{"t":790,"v":0.08},{"t":800,"v":0.079},{"t":820,"v":0.078},{"t":840,"v":0.078},{"t":860,"v":0.077},{"t":880,"v":0.077},{"t":900,"v":0.076},{"t":910,"v":0.076},{"t":915,"v":0.077},{"t":917,"v":0.08},{"t":919,"v":0.3},{"t":921,"v":0.375}],
"brackets":[{"b":"r","t":2,"v":0.4},{"b":"r","t":3,"v":0.418},{"b":"r","t":5,"v":0.427},{"b":"r","t":8,"v":0.43},{"b":"r","t":295,"v":0.43},{"b":"r","t":298.5,"v":0.433},{"b":"r","t":300,"v":0.452},{"b":"r","t":301.5,"v":0.433},{"b":"r","t":305,"v":0.43},{"b":"r","t":592,"v":0.43},{"b":"r","t":595,"v":0.427},{"b":"r","t":597,"v":0.418},{"b":"r","t":598,"v":0.4},{"b":"s","t":599,"v":0.403},{"b":"s","t":600,"v":0.418},{"b":"s","t":602,"v":0.422},{"b":"s","t":605,"v":0.424},{"b":"s","t":792,"v":0.424},{"b":"s","t":795,"v":0.428},{"b":"s","t":796,"v":0.452},{"b":"s","t":797,"v":0.428},{"b":"s","t":800,"v":0.424},{"b":"s","t":987,"v":0.424},{"b":"s","t":990,"v":0.422},{"b":"s","t":992,"v":0.418},{"b":"s","t":993,"v":0.403}]
},
"vconcat":[
{"width":965,"height":132,
"encoding":{"x":{"field":"t","type":"quantitative","scale":{"domain":[0,1000],"nice":false},"axis":{"values":[0,100,200,300,400,500,600,700,800,900,1000],"labels":false,"ticks":false,"domain":false,"title":null,"grid":true,"gridColor":"#222","gridDash":[3,2],"gridWidth":1}},
"y":{"field":"v","type":"quantitative","scale":{"domain":[0,0.4],"nice":false},"axis":{"values":[0,0.01,0.02,0.03,0.04,0.05,0.06,0.07,0.08,0.09,0.1,0.11,0.12,0.13,0.14,0.15,0.16,0.17,0.18,0.19,0.2,0.21,0.22,0.23,0.24,0.25,0.26,0.27,0.28,0.29,0.3,0.31,0.32,0.33,0.34,0.35,0.36,0.37,0.38,0.39,0.4],"title":["Friction","Coefficient"],"titleFont":"Liberation Sans","titleFontSize":15,"titleFontWeight":"bold","titleColor":"#000","titleLineHeight":18,"titlePadding":8,"labelExpr":"round(datum.value*100)%10==0 ? format(datum.value,'.1f') : ''","labelFont":"Liberation Serif","labelFontSize":15,"labelColor":"#333","labelPadding":4,"labelOverlap":false,"domain":false,"ticks":true,"tickSize":5,"tickColor":"#333","tickOpacity":{"condition":{"test":"round(datum.value*100)%10==0","value":1},"value":0},"grid":true,"gridColor":{"condition":{"test":"round(datum.value*100)%10==0","value":"#222"},"value":"#cdcdcd"},"gridDash":{"condition":{"test":"round(datum.value*100)%10==0","value":[3,2]},"value":[]},"gridWidth":1}}},
"layer":[
{"data":{"name":"Ic"},"mark":{"type":"line","color":"#A6D4FA","strokeWidth":2}},
{"data":{"name":"Ib"},"mark":{"type":"line","color":"#14A5E6","strokeWidth":2}},
{"data":{"name":"Ia"},"mark":{"type":"line","color":"#1F6FBF","strokeWidth":2}},
{"data":{"values":[{"t":815,"t2":958,"v":0.276,"v2":0.367}]},"mark":{"type":"rect","fill":"white","stroke":"#222","strokeWidth":1.2},"encoding":{"x2":{"field":"t2"},"y2":{"field":"v2"}}},
{"data":{"values":[{"t":886,"v":0.318,"label":"Group I base oil"},{"t":300,"v":0.5,"label":"Run-in"},{"t":793,"v":0.5,"label":"Increasing sliding speed"}]},"mark":{"type":"text","font":"Liberation Serif","fontSize":16,"color":"#111","align":"center","baseline":"middle"},"encoding":{"text":{"field":"label"}}},
{"data":{"name":"brackets"},"mark":{"type":"line","color":"#333","strokeWidth":1.2},"encoding":{"detail":{"field":"b"}}}
]},
{"width":965,"height":124,
"encoding":{"x":{"field":"t","type":"quantitative","scale":{"domain":[0,1000],"nice":false},"axis":{"values":[0,100,200,300,400,500,600,700,800,900,1000],"labels":false,"ticks":false,"domain":false,"title":null,"grid":true,"gridColor":"#222","gridDash":[3,2],"gridWidth":1}},
"y":{"field":"v","type":"quantitative","scale":{"domain":[0,0.4],"nice":false},"axis":{"values":[0,0.01,0.02,0.03,0.04,0.05,0.06,0.07,0.08,0.09,0.1,0.11,0.12,0.13,0.14,0.15,0.16,0.17,0.18,0.19,0.2,0.21,0.22,0.23,0.24,0.25,0.26,0.27,0.28,0.29,0.3,0.31,0.32,0.33,0.34,0.35,0.36,0.37,0.38,0.39,0.4],"title":["Friction","Coefficient"],"titleFont":"Liberation Sans","titleFontSize":13,"titleFontWeight":"bold","titleColor":"#000","titleLineHeight":19,"titlePadding":9,"labelExpr":"round(datum.value*100)%10==0 ? format(datum.value,'.1f') : ''","labelFont":"Liberation Serif","labelFontSize":15,"labelColor":"#333","labelPadding":4,"labelOverlap":false,"domain":false,"ticks":true,"tickSize":5,"tickColor":"#333","tickOpacity":{"condition":{"test":"round(datum.value*100)%10==0","value":1},"value":0},"grid":true,"gridColor":{"condition":{"test":"round(datum.value*100)%10==0","value":"#222"},"value":"#cdcdcd"},"gridDash":{"condition":{"test":"round(datum.value*100)%10==0","value":[3,2]},"value":[]},"gridWidth":1}}},
"layer":[
{"data":{"name":"IIIb"},"mark":{"type":"line","color":"#FF8585","strokeWidth":2}},
{"data":{"name":"IIIa"},"mark":{"type":"line","color":"#FF0000","strokeWidth":2}},
{"data":{"values":[{"t":810,"t2":964,"v":0.265,"v2":0.368}]},"mark":{"type":"rect","fill":"white","stroke":"#222","strokeWidth":1.2},"encoding":{"x2":{"field":"t2"},"y2":{"field":"v2"}}},
{"data":{"values":[{"t":887,"v":0.316,"label":"Group III base oil"}]},"mark":{"type":"text","font":"Liberation Serif","fontSize":16,"color":"#111","align":"center","baseline":"middle"},"encoding":{"text":{"field":"label"}}}
]},
{"width":965,"height":122,
"encoding":{"x":{"field":"t","type":"quantitative","scale":{"domain":[0,1000],"nice":false},"axis":{"values":[0,100,200,300,400,500,600,700,800,900,1000],"labels":false,"ticks":false,"domain":false,"title":null,"grid":true,"gridColor":"#222","gridDash":[3,2],"gridWidth":1}},
"y":{"field":"v","type":"quantitative","scale":{"domain":[0,0.4],"nice":false},"axis":{"values":[0,0.01,0.02,0.03,0.04,0.05,0.06,0.07,0.08,0.09,0.1,0.11,0.12,0.13,0.14,0.15,0.16,0.17,0.18,0.19,0.2,0.21,0.22,0.23,0.24,0.25,0.26,0.27,0.28,0.29,0.3,0.31,0.32,0.33,0.34,0.35,0.36,0.37,0.38,0.39,0.4],"title":["Friction","Coefficient"],"titleFont":"Liberation Sans","titleFontSize":13,"titleFontWeight":"bold","titleColor":"#000","titleLineHeight":19,"titlePadding":9,"labelExpr":"round(datum.value*100)%10==0 ? format(datum.value,'.1f') : ''","labelFont":"Liberation Serif","labelFontSize":15,"labelColor":"#333","labelPadding":4,"labelOverlap":false,"domain":false,"ticks":true,"tickSize":5,"tickColor":"#333","tickOpacity":{"condition":{"test":"round(datum.value*100)%10==0","value":1},"value":0},"grid":true,"gridColor":{"condition":{"test":"round(datum.value*100)%10==0","value":"#222"},"value":"#cdcdcd"},"gridDash":{"condition":{"test":"round(datum.value*100)%10==0","value":[3,2]},"value":[]},"gridWidth":1}}},
"layer":[
{"data":{"name":"IVc"},"mark":{"type":"line","color":"#3DEB7A","strokeWidth":2}},
{"data":{"name":"IVb"},"mark":{"type":"line","color":"#1FA355","strokeWidth":2}},
{"data":{"name":"IVa"},"mark":{"type":"line","color":"#0B5D2E","strokeWidth":2}},
{"data":{"values":[{"t":820,"t2":975,"v":0.236,"v2":0.338}]},"mark":{"type":"rect","fill":"white","stroke":"#222","strokeWidth":1.2},"encoding":{"x2":{"field":"t2"},"y2":{"field":"v2"}}},
{"data":{"values":[{"t":897,"v":0.289,"label":"Group IV base oil"}]},"mark":{"type":"text","font":"Liberation Serif","fontSize":16,"color":"#111","align":"center","baseline":"middle"},"encoding":{"text":{"field":"label"}}}
]},
{"width":965,"height":113,
"encoding":{"x":{"field":"t","type":"quantitative","scale":{"domain":[0,1000],"nice":false},"axis":{"values":[0,100,200,300,400,500,600,700,800,900,1000],"format":"d","title":"Test time (s)","titleFont":"Liberation Sans","titleFontSize":15,"titleFontWeight":"bold","titleColor":"#000","titlePadding":8,"labelFont":"Liberation Sans","labelFontSize":14,"labelColor":"#333","labelFlush":false,"labelPadding":6,"labelOverlap":false,"domain":false,"ticks":true,"tickSize":5,"tickColor":"#333","grid":true,"gridColor":"#222","gridDash":[3,2],"gridWidth":1}},
"y":{"field":"v","type":"quantitative","scale":{"domain":[0,0.4],"nice":false},"axis":{"values":[0,0.01,0.02,0.03,0.04,0.05,0.06,0.07,0.08,0.09,0.1,0.11,0.12,0.13,0.14,0.15,0.16,0.17,0.18,0.19,0.2,0.21,0.22,0.23,0.24,0.25,0.26,0.27,0.28,0.29,0.3,0.31,0.32,0.33,0.34,0.35,0.36,0.37,0.38,0.39,0.4],"title":["Friction","Coefficient"],"titleFont":"Liberation Sans","titleFontSize":13,"titleFontWeight":"bold","titleColor":"#000","titleLineHeight":19,"titlePadding":8,"labelExpr":"round(datum.value*100)%10==0 ? format(datum.value,'.1f') : ''","labelFont":"Liberation Sans","labelFontSize":14,"labelColor":"#333","labelPadding":8,"labelOverlap":false,"domain":false,"ticks":true,"tickSize":5,"tickColor":"#333","tickOpacity":{"condition":{"test":"round(datum.value*100)%10==0","value":1},"value":0},"grid":true,"gridColor":{"condition":{"test":"round(datum.value*100)%10==0","value":"#222"},"value":"#cdcdcd"},"gridDash":{"condition":{"test":"round(datum.value*100)%10==0","value":[3,2]},"value":[]},"gridWidth":1}}},
"layer":[
{"data":{"name":"FMb"},"mark":{"type":"line","color":"#A070D8","strokeWidth":3}},
{"data":{"name":"FMa"},"mark":{"type":"line","color":"#7232A8","strokeWidth":3}},
{"data":{"values":[{"t":688,"t2":890,"v":0.248,"v2":0.368}]},"mark":{"type":"rect","fill":"white","stroke":"#222","strokeWidth":1.2},"encoding":{"x2":{"field":"t2"},"y2":{"field":"v2"}}},
{"data":{"values":[{"t":789,"v":0.308,"label":"Group III base oil + FM"}]},"mark":{"type":"text","font":"Liberation Serif","fontSize":16,"color":"#111","align":"center","baseline":"middle"},"encoding":{"text":{"field":"label"}}}
]}
]
}
